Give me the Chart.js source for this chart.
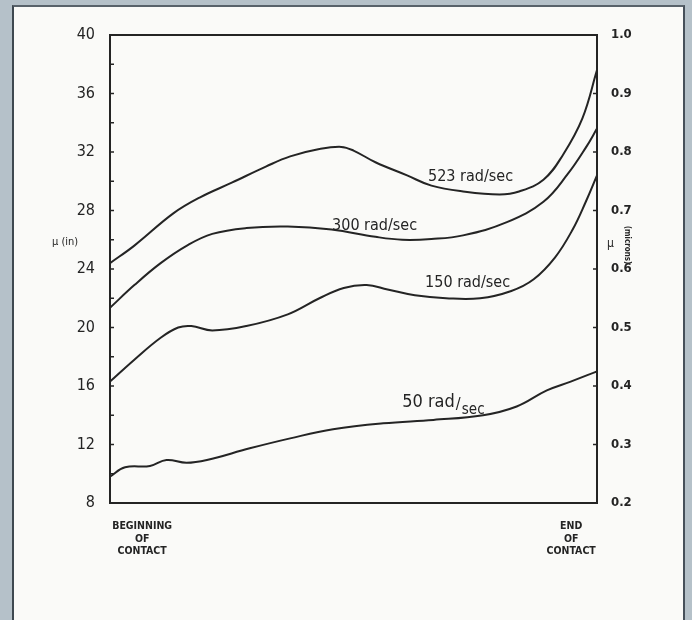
<!DOCTYPE html>
<html>
<head>
<meta charset="utf-8">
<script src="https://cdn.jsdelivr.net/npm/chart.js@4.4.1/dist/chart.umd.min.js"></script>
<style>
  body { margin: 0; width: 692px; height: 620px; background: #b5c1c9; overflow: hidden; }
  #frame {
    position: absolute; left: 12px; top: 5px; width: 669px; height: 615px;
    background: #fafaf8;
    border-left: 2px solid #3e4850; border-top: 2px solid #58626a; border-right: 2px solid #46505a;
  }
  #chart { position: absolute; left: 0; top: 0; }
</style>
</head>
<body>
<div id="frame"></div>
<canvas id="chart" width="692" height="620"></canvas>
<script>
"use strict";

// position along contact (0 = beginning, 100 = end) and mu (in)
const x523 = [0, 5, 13, 18.5, 25, 32, 37, 43, 47.5, 50, 54.5, 61, 66, 72.5, 80, 84, 89, 93, 97, 100];
const y523 = [24.4, 25.6, 27.8, 28.9, 29.9, 31.0, 31.7, 32.2, 32.35, 32.1, 31.3, 30.4, 29.7, 29.3, 29.1, 29.3, 30.1, 31.8, 34.3, 37.6];

const x300 = [0, 5, 10.4, 15.8, 21, 28, 36.5, 45.5, 54.5, 60, 66, 72.5, 81.5, 89, 94, 97.7, 100];
const y300 = [21.35, 22.9, 24.4, 25.6, 26.4, 26.8, 26.9, 26.7, 26.2, 26.0, 26.05, 26.3, 27.2, 28.6, 30.5, 32.3, 33.6];

const x150 = [0, 5, 10.4, 14, 16.7, 21, 28, 36.5, 43, 48, 52.7, 57, 62.6, 69, 76, 82.4, 87, 91.4, 95, 97.7, 100];
const y150 = [16.3, 17.8, 19.3, 20.0, 20.1, 19.8, 20.1, 20.9, 22.0, 22.7, 22.9, 22.6, 22.2, 22.0, 22.0, 22.5, 23.3, 24.8, 26.7, 28.6, 30.4];

const x50 = [0, 3.1, 8.2, 11.6, 15.7, 19.9, 28.7, 37, 45.8, 56.1, 66.4, 76.6, 83.5, 89.7, 94.6, 100];
const y50 = [9.8, 10.44, 10.53, 10.94, 10.75, 10.94, 11.74, 12.42, 13.04, 13.45, 13.68, 14.0, 14.6, 15.7, 16.3, 17.0];

const curveNames = ["523 rad/sec", "300 rad/sec", "150 rad/sec", "50 rad"];
const labelX = [65.3, 45.6, 64.7, 60.0];
const labelY = [30.3, 26.94, 23.04, 14.9];

const xTickPos = [6.6, 94.7];
const xTickLabels = [["BEGINNING", "OF", "CONTACT"], ["END", "OF", "CONTACT"]];

const ink = "#242424";
const fontFam = "'DejaVu Sans Condensed', 'DejaVu Sans', sans-serif";

function pts(xs, ys) {
    return xs.map((x, i) => ({ x: x, y: ys[i] }));
}

function line(xs, ys) {
    return {
        data: pts(xs, ys),
        borderColor: ink,
        borderWidth: 2,
        pointRadius: 0,
        tension: 0.4,
        fill: false
    };
}

const decorations = {
    id: "decorations",
    afterDatasetsDraw(chart) {
        const ctx = chart.ctx;
        const a = chart.chartArea;
        const sx = chart.scales.x;
        const sy = chart.scales.y;
        const sy2 = chart.scales.y2;

        ctx.save();
        ctx.strokeStyle = ink;
        ctx.fillStyle = ink;

        // box
        ctx.lineWidth = 2;
        ctx.strokeRect(a.left, a.top, a.right - a.left, a.bottom - a.top);

        // inward tick marks
        ctx.lineWidth = 1.5;
        for (let v = 10; v < 40; v += 2) {
            const py = sy.getPixelForValue(v);
            ctx.beginPath();
            ctx.moveTo(a.left, py);
            ctx.lineTo(a.left + 4, py);
            ctx.stroke();
        }
        for (let i = 3; i < 10; i++) {
            const py = sy2.getPixelForValue(i / 10);
            ctx.beginPath();
            ctx.moveTo(a.right, py);
            ctx.lineTo(a.right - 4, py);
            ctx.stroke();
        }

        // curve labels
        ctx.textBaseline = "middle";
        ctx.textAlign = "left";
        for (let i = 0; i < curveNames.length; i++) {
            const px = sx.getPixelForValue(labelX[i]);
            const py = sy.getPixelForValue(labelY[i]);
            if (i == 3) {
                ctx.font = "18px " + fontFam;
                ctx.fillText(curveNames[i], px, py);
                const w = ctx.measureText(curveNames[i]).width;
                ctx.font = "16px " + fontFam;
                ctx.fillText("/", px + w + 1, py + 3);
                ctx.font = "15px " + fontFam;
                ctx.fillText("sec", px + w + 7, py + 8);
            } else {
                ctx.font = "16px " + fontFam;
                ctx.fillText(curveNames[i], px, py);
            }
        }

        // axis titles
        ctx.font = "11px " + fontFam;
        ctx.fillText("\u03bc (in)", 52, 242);
        ctx.font = "12px " + fontFam;
        ctx.fillText("\u03bc", 607, 244);
        ctx.translate(627, 245);
        ctx.rotate(Math.PI / 2);
        ctx.textAlign = "center";
        ctx.font = "bold 8px " + fontFam;
        ctx.fillText("(microns)", 0, 0);
        ctx.restore();
    }
};

new Chart(document.getElementById("chart"), {
    type: "line",
    data: {
        datasets: [line(x523, y523), line(x300, y300), line(x150, y150), line(x50, y50)]
    },
    options: {
        responsive: false,
        animation: false,
        layout: { padding: { top: 35, left: 0, right: 0, bottom: 0 } },
        plugins: { legend: { display: false }, tooltip: { enabled: false } },
        scales: {
            x: {
                type: "linear",
                min: 0,
                max: 100,
                grid: { display: false },
                border: { display: false },
                afterBuildTicks: (scale) => {
                    scale.ticks = xTickPos.map((v) => ({ value: v }));
                },
                afterFit: (scale) => { scale.height = 117; },
                ticks: {
                    color: ink,
                    padding: 9,
                    maxRotation: 0,
                    autoSkip: false,
                    font: { family: fontFam, size: 10.5, weight: "bold", lineHeight: 1.2 },
                    callback: (v, i) => xTickLabels[i]
                }
            },
            y: {
                position: "left",
                min: 8,
                max: 40,
                grid: { display: false },
                border: { display: false },
                afterFit: (scale) => { scale.width = 110; },
                ticks: {
                    stepSize: 4,
                    color: ink,
                    padding: 7,
                    font: { family: fontFam, size: 16 }
                }
            },
            y2: {
                position: "right",
                min: 0.2,
                max: 1.0,
                grid: { display: false },
                border: { display: false },
                afterFit: (scale) => { scale.width = 95; },
                ticks: {
                    stepSize: 0.1,
                    color: ink,
                    padding: 6,
                    font: { family: fontFam, size: 13, weight: "bold" },
                    callback: (v) => Number(v).toFixed(1)
                }
            }
        }
    },
    plugins: [decorations]
});
</script>
</body>
</html>
